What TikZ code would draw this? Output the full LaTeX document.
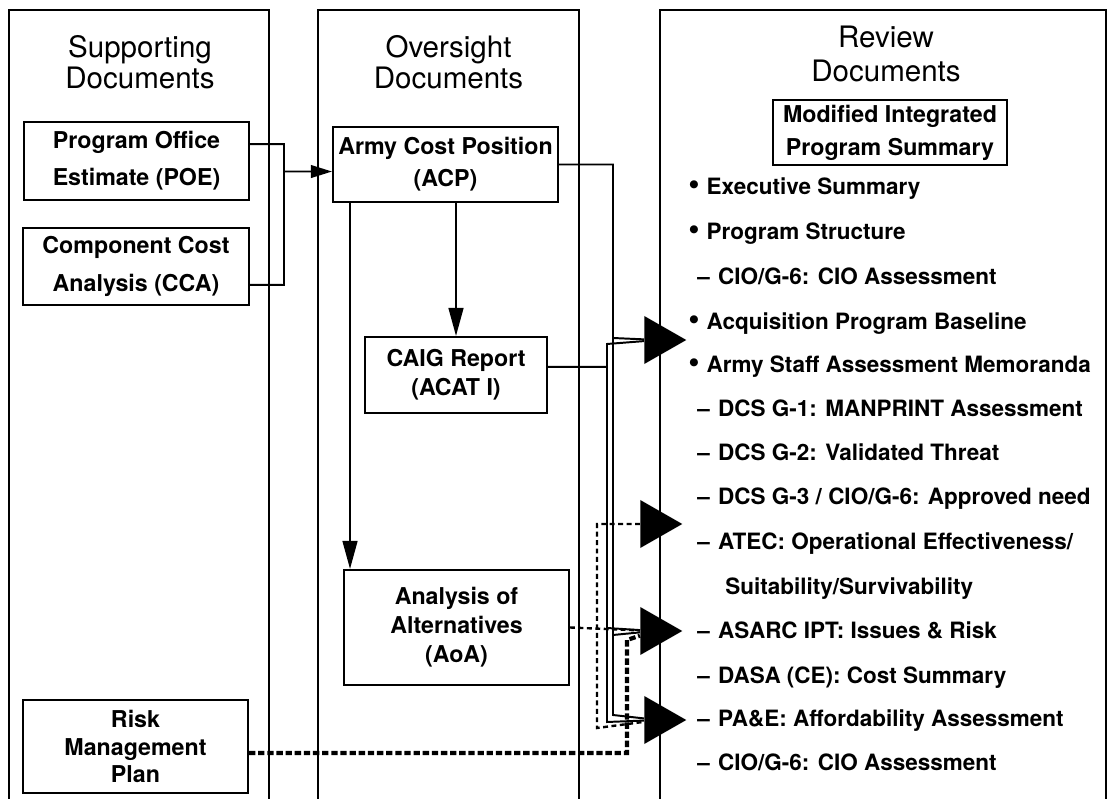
\documentclass[tikz,border=0pt]{standalone}
\usepackage{fontspec}
\setmainfont{TeX Gyre Heros}
\usetikzlibrary{arrows.meta,shapes.geometric}
\def\bodyfont{\bfseries\fontsize{16.5}{20.5}\selectfont}
\def\entryfont{\bfseries\fontsize{16}{20}\selectfont}
\def\headfont{\fontsize{21}{22}\selectfont}
\def\bulmark{{\fontsize{23}{20}\selectfont\textbullet}\hspace{5pt}}
\tikzset{
  panel/.style={line width=1.8pt},
  docbox/.style={draw, line width=1.4pt, align=center, inner sep=0pt, font=\bodyfont},
  headtext/.style={align=center, inner sep=0pt, font=\headfont},
  entry/.style={anchor=base west, inner sep=0pt, font=\entryfont},
  bigtip/.style={isosceles triangle, isosceles triangle stretches, fill=black, inner sep=0pt,
    minimum width=1.2cm, minimum height=1.05cm, anchor=apex},
  link/.style={line width=1.4pt},
  tiplink/.style={line width=1.6pt, -{Triangle[length=20pt,width=10.5pt]}},
  dashlink/.style={line width=1.7pt, dash pattern=on 3.5pt off 2.5pt},
  risklink/.style={line width=3pt, dash pattern=on 4.5pt off 2pt}
}

\begin{document}
\begin{tikzpicture}[x=0.025cm, y=-0.025cm]
		%%%%% START %%%%%
		\useasboundingbox (0,0) rectangle (1114,799);
		
		\draw[panel] (9,799) |- (269,10) -- (269,799);
		\draw[panel] (318,799) |- (579,10) -- (579,799);
		\draw[panel] (660,799) |- (1106,10) -- (1106,799);
		
		\node[headtext] (suphead) at (140,62) {Supporting\\Documents};
		\node[headtext] (ovrhead) at (448.5,62) {Oversight\\Documents};
		\node[headtext] (revhead) at (886,54) {Review\\[2pt]Documents};
		
		\node[docbox, minimum width=5.625cm, minimum height=1.95cm] (poe) at (136.5,161) {Program Office\\[6pt]Estimate (POE)};
		\node[docbox, minimum width=5.65cm, minimum height=1.925cm] (cca) at (136,266.5) {Component Cost\\[6pt]Analysis (CCA)};
		\node[docbox, minimum width=5.625cm, minimum height=2.325cm] (rmp) at (135.5,746.5) {Risk\\[-1pt]Management\\[-1pt]Plan};
		
		\node[docbox, minimum width=5.625cm, minimum height=1.875cm] (acp) at (445.5,164.5) {Army Cost Position\\[2.5pt](ACP)};
		\node[docbox, minimum width=4.55cm, minimum height=1.9cm] (caig) at (456,375) {CAIG Report\\(ACAT I)};
		\node[docbox, minimum width=5.625cm, minimum height=2.875cm] (aoa) at (456.5,627.5) {Analysis of\\Alternatives\\(AoA)};
		
		\node[docbox, minimum width=5.85cm, minimum height=1.625cm] (mips) at (890,132.5) {Modified Integrated\\[3pt]Program Summary};
		
		\node[entry] (it1) at (688,195) {\bulmark Executive Summary};
		\node[entry] (it2) at (688,240) {\bulmark Program Structure};
		\node[entry] (it3) at (697,285) {--\hspace{6pt}CIO/G-6: CIO Assessment};
		\node[entry] (it4) at (688,330) {\bulmark Acquisition Program Baseline};
		\node[entry] (it5) at (688,373) {\bulmark Army Staff Assessment Memoranda};
		\node[entry] (it6) at (697,417) {--\hspace{6pt}DCS G-1: MANPRINT Assessment};
		\node[entry] (it7) at (697,461) {--\hspace{6pt}DCS G-2: Validated Threat};
		\node[entry] (it8) at (697,505) {--\hspace{6pt}DCS G-3 / CIO/G-6: Approved need};
		\node[entry] (it9) at (697,550) {--\hspace{6pt}ATEC: Operational Effectiveness/};
		\node[entry] (it10) at (725,595) {Suitability/Survivability};
		\node[entry] (it11) at (697,639) {--\hspace{6pt}ASARC IPT: Issues \& Risk};
		\node[entry] (it12) at (697,684) {--\hspace{6pt}DASA (CE): Cost Summary};
		\node[entry] (it13) at (697,727) {--\hspace{6pt}PA\&E: Affordability Assessment};
		\node[entry] (it14) at (697,771) {--\hspace{6pt}CIO/G-6: CIO Assessment};
		
		\node[bigtip] (in1) at (687,340) {};
		\node[bigtip] (in2) at (683,524) {};
		\node[bigtip] (in3) at (683,631) {};
		\node[bigtip] (in4) at (687,720) {};
		
		% supporting documents into the cost position
		\draw[link] ([yshift=12pt]poe.east) -| (284,285) -- ([yshift=-13pt]cca.east);
		\draw[link, -{Triangle[length=15pt,width=9pt]}] (284,171.5) -- ([yshift=-5pt]acp.west);
		
		\draw[tiplink] (acp.south -| caig.north) -- (caig.north);
		\coordinate (aoatop) at ([xshift=5pt]aoa.north west);
		\draw[tiplink] (acp.south -| aoatop) -- (aoatop);
		
		% cost position and CAIG report into the review documents
		\draw[link] (acp.east) -| (613,715) -- ([yshift=3.5pt]in4);
		\draw[link] (613,338) -- ([yshift=1.4pt]in1);
		\draw[link] (613,635) -- ([yshift=-2.8pt]in3);
		\draw[link] ([yshift=5.7pt]caig.east) -| (607,722) -- ([yshift=-1.4pt]in4);
		\draw[link] (607,367) -- (607,344) -- ([yshift=-2.8pt]in1);
		\draw[link] (607,628) -- ([yshift=2.1pt]in3);
		
		% alternatives and risk plan
		\draw[dashlink] (aoa.east) -- ([yshift=2.5pt]in3);
		\draw[dashlink] (in2) -| (597,728) -- ([yshift=-5.7pt]in4);
		\draw[risklink] ([yshift=-4.6pt]rmp.east) -| (627,640) -- ([yshift=-6.4pt]in3);
		%%%%% END %%%%%
\end{tikzpicture}
\end{document}
